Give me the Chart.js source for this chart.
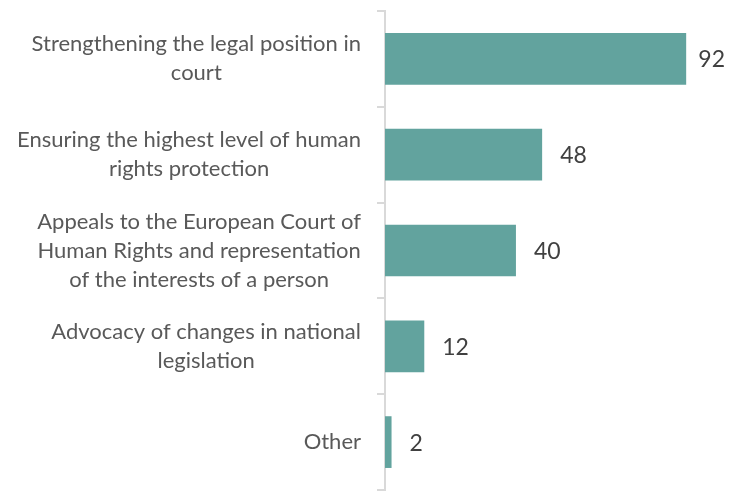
<!DOCTYPE html>
<html>
<head>
<meta charset="utf-8">
<script src="https://cdn.jsdelivr.net/npm/chart.js@4/dist/chart.umd.min.js"></script>
<style>
  html, body { margin: 0; padding: 0; background: #fff; }
</style>
</head>
<body>
<canvas id="myChart" width="729" height="496"></canvas>
<script>
const categories = [
  ["Strengthening the legal position in", "court"],
  ["Ensuring the highest level of human", "rights protection"],
  ["Appeals to the European Court of", "Human Rights and representation", "of the interests of a person"],
  ["Advocacy of changes in national", "legislation"],
  ["Other"],
];
const counts = [92, 48, 40, 12, 2];

const labelColor = "#595959";
const valueColor = "#404040";
const labelFont = "22px Lato";
const valueFont = "23px Lato";

// y labels: each block right aligned to the axis, lines centred within the block
const categoryLabels = {
  id: "categoryLabels",
  afterDraw(chart) {
    const ctx = chart.ctx;
    const y = chart.scales.y;
    const lineHeight = 29;
    ctx.save();
    ctx.font = labelFont;
    ctx.fillStyle = labelColor;
    ctx.textAlign = "center";
    ctx.textBaseline = "middle";
    categories.forEach(function (lines, i) {
      let widest = 0;
      lines.forEach(function (l) {
        widest = Math.max(widest, ctx.measureText(l).width);
      });
      const cx = 361 - widest / 2;
      const cy = y.getPixelForTick(i);
      const top = cy - ((lines.length - 1) * lineHeight) / 2;
      lines.forEach(function (l, j) {
        ctx.fillText(l, cx, top + j * lineHeight);
      });
    });
    ctx.restore();
  },
};

// value labels to the right of each bar
const valueLabels = {
  id: "valueLabels",
  afterDatasetsDraw(chart) {
    const ctx = chart.ctx;
    const meta = chart.getDatasetMeta(0);
    ctx.save();
    ctx.font = valueFont;
    ctx.fillStyle = valueColor;
    ctx.textAlign = "left";
    ctx.textBaseline = "middle";
    meta.data.forEach(function (bar, i) {
      const txt = String(counts[i]);
      const w = ctx.measureText(txt).width;
      const x = Math.min(bar.x + 18, chart.width - w - 4);
      ctx.fillText(txt, x, bar.y + 1);
    });
    ctx.restore();
  },
};

new Chart(document.getElementById("myChart"), {
  type: "bar",
  data: {
    labels: categories,
    datasets: [
      {
        data: counts,
        backgroundColor: "#62a39e",
        borderWidth: 0,
        barPercentage: 0.54,
        categoryPercentage: 1,
      },
    ],
  },
  options: {
    indexAxis: "y",
    responsive: false,
    animation: false,
    layout: { padding: { top: 11, right: 15, bottom: 6, left: 0 } },
    plugins: {
      legend: { display: false },
      tooltip: { enabled: false },
    },
    scales: {
      x: {
        display: false,
        min: 0,
        max: 100.5,
      },
      y: {
        afterFit(scale) {
          scale.width = 385;
        },
        ticks: { display: false },
        grid: {
          offset: true,
          drawOnChartArea: false,
          drawTicks: true,
          tickLength: 8,
          color: "#d9d9d9",
          lineWidth: 2,
        },
        border: { display: true, color: "#d9d9d9", width: 2 },
      },
    },
  },
  plugins: [categoryLabels, valueLabels],
});
</script>
</body>
</html>
